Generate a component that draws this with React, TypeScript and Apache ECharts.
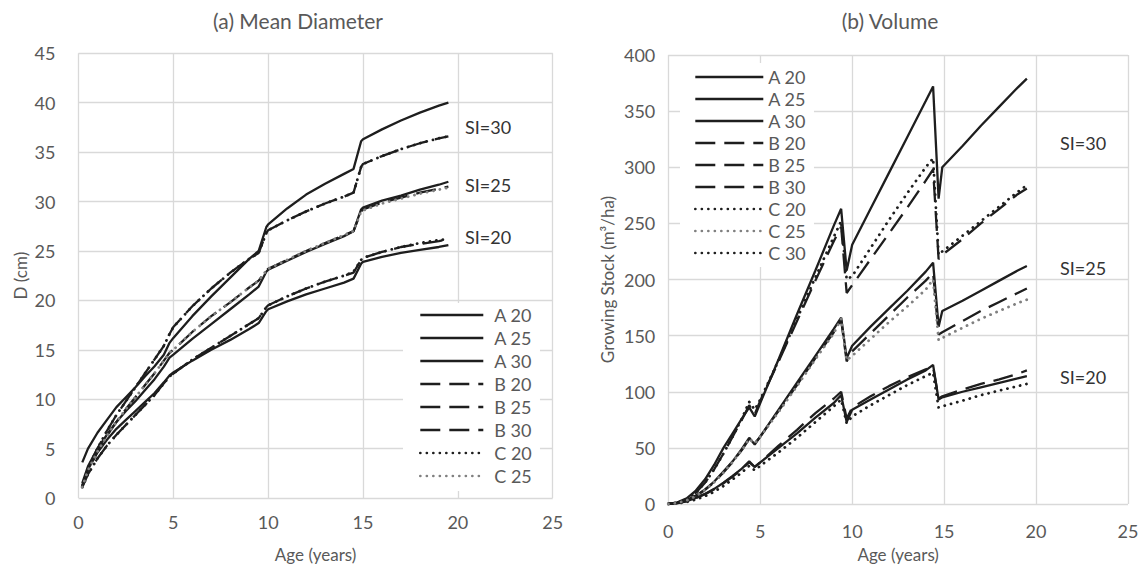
import React, { useEffect, useRef } from "react";
import * as echarts from "echarts";

// ---------- data ----------
const SERIES_NAMES = ["A 20", "A 25", "A 30", "B 20", "B 25", "B 30", "C 20", "C 25", "C 30"];
const LEFT_LEGEND = ["A 20", "A 25", "A 30", "B 20", "B 25", "B 30", "C 20", "C 25"];

const X_TICKS = [0, 5, 10, 15, 20, 25];

// (a) Mean diameter, cm
const AGES_D = [0.2, 0.5, 1, 1.5, 2, 2.5, 3, 3.5, 4, 4.5, 4.8, 5, 6, 7, 8, 9, 9.5, 9.9, 10, 11, 12, 13, 14, 14.5, 14.9, 15, 16, 17, 18, 19, 19.5];
const D_A20 = [1.3, 2.9, 4.6, 5.9, 7.0, 7.9, 8.8, 9.7, 10.6, 11.7, 12.4, 12.7, 13.9, 15.0, 16.0, 17.1, 17.7, 18.9, 19.1, 19.9, 20.6, 21.2, 21.8, 22.2, 23.7, 23.9, 24.4, 24.8, 25.1, 25.4, 25.6];
const D_A25 = [1.5, 3.2, 5.0, 6.4, 7.7, 8.8, 9.8, 10.9, 12.0, 13.3, 14.2, 14.5, 16.1, 17.6, 19.1, 20.6, 21.4, 22.9, 23.1, 24.0, 24.9, 25.7, 26.5, 27.0, 29.2, 29.4, 30.1, 30.6, 31.2, 31.7, 32.0];
const D_A30 = [3.6, 5.0, 6.6, 7.9, 9.2, 10.2, 11.2, 12.3, 13.3, 14.5, 15.7, 16.2, 18.4, 20.4, 22.3, 24.2, 25.0, 27.4, 27.7, 29.3, 30.7, 31.8, 32.8, 33.3, 36.1, 36.3, 37.3, 38.2, 39.0, 39.7, 40.0];
const D_B20 = [1.1, 2.4, 4.0, 5.3, 6.4, 7.4, 8.4, 9.4, 10.4, 11.6, 12.3, 12.6, 14.0, 15.2, 16.4, 17.6, 18.2, 19.3, 19.5, 20.4, 21.2, 21.9, 22.5, 22.8, 24.1, 24.3, 24.9, 25.4, 25.7, 26.0, 26.2];
const D_B25 = [1.1, 2.8, 4.7, 6.3, 7.7, 9.0, 10.2, 11.4, 12.6, 13.9, 14.7, 15.0, 16.8, 18.4, 19.8, 21.3, 22.0, 23.0, 23.2, 24.1, 25.0, 25.8, 26.6, 27.0, 29.0, 29.2, 29.9, 30.4, 30.9, 31.3, 31.5];
const D_B30 = [1.2, 3.0, 5.0, 6.8, 8.4, 9.8, 11.2, 12.6, 14.0, 15.4, 16.6, 17.3, 19.4, 21.2, 22.8, 24.2, 24.8, 26.8, 27.1, 28.1, 29.0, 29.8, 30.5, 30.9, 33.5, 33.8, 34.6, 35.3, 35.9, 36.4, 36.6];
const D_C20 = [1.1, 2.4, 4.0, 5.3, 6.4, 7.4, 8.4, 9.4, 10.4, 11.6, 12.3, 12.6, 14.0, 15.2, 16.4, 17.6, 18.2, 19.3, 19.5, 20.4, 21.2, 21.9, 22.5, 22.9, 24.1, 24.3, 24.9, 25.4, 25.8, 26.1, 26.2];
const D_C25 = [1.1, 2.8, 4.7, 6.3, 7.7, 9.0, 10.2, 11.4, 12.6, 13.9, 14.7, 15.0, 16.8, 18.4, 19.8, 21.3, 22.0, 23.0, 23.2, 24.1, 25.0, 25.8, 26.6, 27.0, 29.0, 29.1, 29.8, 30.3, 30.8, 31.2, 31.4];
const D_C30 = [1.2, 3.0, 5.0, 6.8, 8.4, 9.8, 11.2, 12.6, 14.0, 15.4, 16.6, 17.3, 19.4, 21.2, 22.8, 24.2, 24.8, 26.8, 27.1, 28.1, 29.0, 29.8, 30.5, 30.9, 33.5, 33.8, 34.6, 35.3, 35.9, 36.4, 36.6];

// (b) Volume, m3/ha
const AGES_V = [0, 0.5, 1, 1.5, 2, 2.5, 3, 3.5, 4, 4.4, 4.7, 5, 6, 7, 8, 9, 9.4, 9.7, 10, 11, 12, 13, 14, 14.4, 14.7, 14.9, 16, 17, 18, 19, 19.5];
const V_A20 = [0, 0.8, 2.5, 5.5, 9, 13.5, 19, 25, 31.5, 38, 33, 37, 50, 63, 77, 90, 97, 73, 84, 93, 102, 111, 119, 124, 93, 95, 100, 104, 108, 112, 114];
const V_A25 = [0, 1, 3.5, 7.5, 13, 20, 29, 38, 49, 59, 53, 60, 84, 108, 132, 156, 166, 130, 141, 158, 174, 190, 207, 215, 158, 172, 181, 190, 199, 208, 212];
const V_A30 = [0, 1.5, 5, 12, 22, 35, 50, 63, 76, 86, 78, 90, 129, 169, 208, 248, 263, 208, 231, 263, 295, 327, 359, 372, 272, 300, 319, 337, 354, 371, 379];
const V_B20 = [0, 0.8, 2.4, 5.3, 8.8, 13.2, 18.5, 24.5, 31, 37, 33, 37, 52, 66, 81, 94, 100, 76, 86, 96, 105, 113, 120, 122, 94, 96, 102, 107, 111, 116, 119];
const V_B25 = [0, 1, 3.3, 7.2, 12.5, 19.5, 28, 37.5, 48, 58, 54, 60, 83, 106, 130, 153, 164, 127, 136, 152, 168, 184, 199, 206, 151, 153, 163, 172, 180, 188, 192];
const V_B30 = [0, 1.2, 4, 10, 19, 31, 45, 60, 75, 88, 80, 92, 127, 163, 199, 234, 247, 188, 195, 218, 241, 264, 288, 298, 218, 222, 236, 250, 263, 276, 281];
const V_C20 = [0, 0.5, 1.8, 4, 7, 11, 16, 22, 28, 34, 30, 34, 46, 59, 73, 87, 93, 72, 78, 88, 97, 106, 114, 117, 86, 87, 92, 97, 101, 105, 107];
const V_C25 = [0, 0.9, 3.2, 7, 12.5, 19.5, 28, 37.5, 48, 58, 54, 60, 82, 105, 129, 152, 165, 128, 132, 147, 162, 176, 191, 200, 146, 148, 157, 165, 172, 179, 182];
const V_C30 = [0, 1.2, 4, 10, 19, 31, 45, 60, 76, 91, 84, 93, 128, 165, 202, 238, 252, 200, 203, 228, 253, 277, 300, 308, 222, 225, 239, 252, 265, 278, 284];

const D_VALUES = [D_A20, D_A25, D_A30, D_B20, D_B25, D_B30, D_C20, D_C25, D_C30];
const V_VALUES = [V_A20, V_A25, V_A30, V_B20, V_B25, V_B30, V_C20, V_C25, V_C30];

const TITLES = ["(a) Mean Diameter", "(b) Volume"];
const SI_LABELS = ["SI=30", "SI=25", "SI=20"];

// ---------- styling ----------
const FONT = "Lato, 'Open Sans', sans-serif";
const TEXT_GRAY = "#595959";
const GRID_GRAY = "#d9d9d9";
const BLACK = "#1e1e1e";
const GRAY_LINE = "#808080";

function lineStyleFor(name: string) {
  const kind = name[0];
  const color = name === "C 25" ? GRAY_LINE : BLACK;
  if (kind === "A") return { color, width: 2.3, type: "solid" as any, cap: "butt" };
  if (kind === "B") return { color, width: 2.3, type: [20, 9] as any, cap: "butt" };
  return { color, width: 2.8, type: [0.1, 6.4] as any, cap: "round" };
}

function zip(xs: number[], ys: number[]) {
  return xs.map((x, i) => [x, ys[i]]);
}

export default function App() {
  const ref = useRef<HTMLDivElement>(null);

  useEffect(() => {
    if (!ref.current) return;
    const chart = echarts.init(ref.current, undefined, { renderer: "svg" });

    const axisLabel = (margin: number) => ({
      color: TEXT_GRAY,
      fontSize: 18,
      fontFamily: FONT,
      margin,
    });
    const splitLine = { show: true, lineStyle: { color: GRID_GRAY, width: 1.3 } };

    const series: any[] = [];
    SERIES_NAMES.forEach((name, i) => {
      const ls = lineStyleFor(name);
      series.push({
        type: "line",
        name,
        xAxisIndex: 0,
        yAxisIndex: 0,
        data: zip(AGES_D, D_VALUES[i]),
        symbol: "none",
        lineStyle: ls,
        itemStyle: { color: ls.color },
        z: name === "C 25" ? 3 : 2,
      });
    });
    SERIES_NAMES.forEach((name, i) => {
      const ls = lineStyleFor(name);
      series.push({
        type: "line",
        name,
        xAxisIndex: 1,
        yAxisIndex: 1,
        data: zip(AGES_V, V_VALUES[i]),
        symbol: "none",
        lineStyle: ls,
        itemStyle: { color: ls.color },
        z: name === "C 25" ? 3 : 2,
      });
    });

    const legendText = (padLeft: number) => ({
      color: TEXT_GRAY,
      fontSize: 18,
      fontFamily: FONT,
      padding: [0, 0, 0, padLeft],
    });
    const hiddenSymbol = {
      color: "rgba(0,0,0,0)",
      borderColor: "rgba(0,0,0,0)",
      borderWidth: 0,
      opacity: 0,
    };

    const siText = (x: number, y: number, text: string) => ({
      type: "text",
      x,
      y,
      z: 10,
      style: {
        text,
        fill: "#333333",
        font: `18px ${FONT}`,
        verticalAlign: "middle",
        textVerticalAlign: "middle",
      },
    });

    const titleText = (x: number, text: string) => ({
      type: "text",
      x,
      y: 20,
      style: {
        text,
        fill: TEXT_GRAY,
        font: `21px ${FONT}`,
        align: "center",
        verticalAlign: "middle",
        textAlign: "center",
        textVerticalAlign: "middle",
      },
    });

    const option: any = {
      animation: false,
      backgroundColor: "#ffffff",
      grid: [
        { left: 78.5, top: 53.3, width: 474.2, height: 445.5, containLabel: false },
        { left: 668.3, top: 55, width: 459.7, height: 450, containLabel: false },
      ],
      xAxis: [
        {
          type: "value",
          gridIndex: 0,
          min: 0,
          max: 25,
          interval: 5,
          data: X_TICKS,
          axisLine: { show: false },
          axisTick: { show: false },
          axisLabel: axisLabel(15),
          splitLine,
          name: "Age (years)",
          nameLocation: "middle",
          nameGap: 48,
          nameTextStyle: { color: TEXT_GRAY, fontSize: 17, fontFamily: FONT },
        },
        {
          type: "value",
          gridIndex: 1,
          min: 0,
          max: 25,
          interval: 5,
          axisLine: { show: false },
          axisTick: { show: false },
          axisLabel: axisLabel(18),
          splitLine,
          name: "Age (years)",
          nameLocation: "middle",
          nameGap: 42,
          nameTextStyle: { color: TEXT_GRAY, fontSize: 17, fontFamily: FONT },
        },
      ],
      yAxis: [
        {
          type: "value",
          gridIndex: 0,
          min: 0,
          max: 45,
          interval: 5,
          axisLine: { show: false },
          axisTick: { show: false },
          axisLabel: axisLabel(23),
          splitLine,
          name: "D (cm)",
          nameLocation: "middle",
          nameGap: 50,
          nameRotate: 90,
          nameTextStyle: { color: TEXT_GRAY, fontSize: 17, fontFamily: FONT },
        },
        {
          type: "value",
          gridIndex: 1,
          min: 0,
          max: 400,
          interval: 50,
          axisLine: { show: false },
          axisTick: { show: false },
          axisLabel: axisLabel(13),
          splitLine,
          name: "Growing Stock (m³/ha)",
          nameLocation: "middle",
          nameGap: 52,
          nameRotate: 90,
          nameTextStyle: { color: TEXT_GRAY, fontSize: 17, fontFamily: FONT },
        },
      ],
      legend: [
        {
          data: LEFT_LEGEND,
          orient: "vertical",
          left: 403,
          top: 303,
          padding: [3, 8, 6, 16],
          itemGap: 5,
          itemWidth: 63,
          itemHeight: 14,
          backgroundColor: "#ffffff",
          selectedMode: false,
          itemStyle: hiddenSymbol,
          lineStyle: { width: 2.6 },
          textStyle: legendText(6),
          z: 5,
        },
        {
          data: SERIES_NAMES,
          orient: "vertical",
          left: 680,
          top: 63,
          padding: [5, 8, 5, 14],
          itemGap: 4,
          itemWidth: 68,
          itemHeight: 14,
          backgroundColor: "#ffffff",
          selectedMode: false,
          itemStyle: hiddenSymbol,
          lineStyle: { width: 2.6 },
          textStyle: legendText(0),
          z: 5,
        },
      ],
      graphic: [
        titleText(298, TITLES[0]),
        titleText(890, TITLES[1]),
        siText(465, 127, SI_LABELS[0]),
        siText(465, 185, SI_LABELS[1]),
        siText(465, 237, SI_LABELS[2]),
        siText(1060, 143, SI_LABELS[0]),
        siText(1060, 268, SI_LABELS[1]),
        siText(1060, 377, SI_LABELS[2]),
      ],
      series,
    };

    chart.setOption(option);
    return () => chart.dispose();
  }, []);

  return (
    <div
      ref={ref}
      style={{ position: "absolute", left: 0, top: 0, width: 1142, height: 568, background: "#fff" }}
    />
  );
}
